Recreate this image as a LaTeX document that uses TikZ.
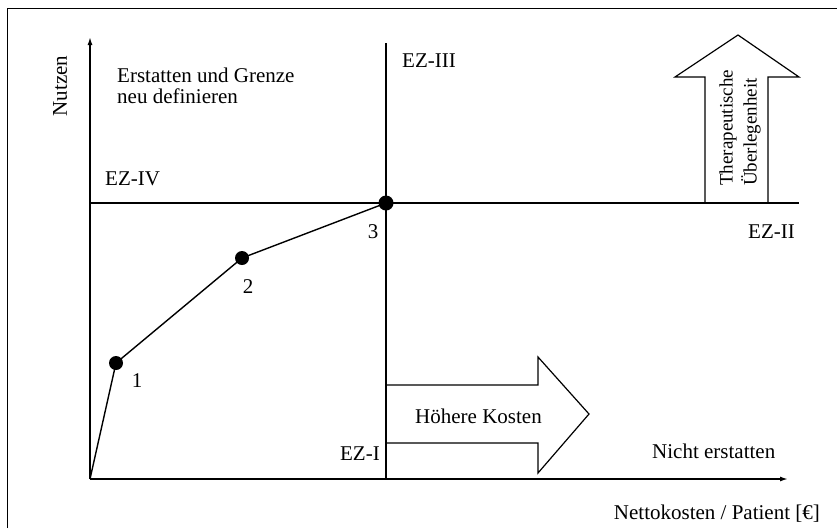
\documentclass[tikz,border=0pt]{standalone}
\usepackage{fontspec}
\setmainfont{Liberation Serif}
\usetikzlibrary{arrows.meta}

\begin{document}
\begin{tikzpicture}[x=1pt, y=-1pt, >={Latex[length=8pt,width=5pt]},
  every node/.style={font=\fontsize{21}{21}\selectfont, inner sep=0pt},
  axisline/.style={line width=1.5pt},
  bigarrow/.style={line width=1.2pt, fill=white}]

\useasboundingbox (0,0) rectangle (837,528);

% Pixel coordinates taken from the scanned figure (y grows downward).
\coordinate (O)    at ( 90, 479);
\coordinate (Ytop) at ( 90,  37);
\coordinate (Xend) at (788, 479);

% Efficiency frontier
\coordinate (P1) at (116, 363);
\coordinate (P2) at (242, 258);
\coordinate (P3) at (386, 203);

% Threshold lines
\coordinate (Vtop) at (386,  43);
\coordinate (Vbot) at (386, 479);
\coordinate (Hlft) at ( 90, 203);
\coordinate (Hrgt) at (799, 203);

% --- Outer frame (cut off at right and bottom) ---
\draw[line width=1pt] (7,528) -- (7,8) -- (837,8);

% --- Big arrow: therapeutic superiority (points up) ---
\draw[bigarrow] (705,203) -- (705,77) -- (675,77) -- (738,35)
  -- (799,77) -- (768,77) -- (768,203);
\node[rotate=90, anchor=west, align=left,
  font=\fontsize{19}{24}\selectfont] (ueber) at (740,186)
  {Therapeutische\\Überlegenheit};

% --- Big arrow: higher costs (points right) ---
\draw[bigarrow] (386,385) -- (538,385) -- (538,357) -- (589,414)
  -- (538,473) -- (538,443) -- (386,443);
\node[anchor=base west] (kosten) at (415,423) {Höhere Kosten};

% --- Axes ---
\draw[axisline, ->] (O) -- (Ytop);
\draw[axisline, ->] (O) -- (Xend);
\node[rotate=90] (nutzen) at (60,86) {Nutzen};
\node[anchor=base east] (netto) at (820,519) {Nettokosten / Patient [€]};

% --- Threshold lines ---
\draw[axisline] (Vtop) -- (Vbot);
\draw[axisline] (Hlft) -- (Hrgt);

% --- Frontier and points ---
\draw[line width=1.4pt] (O) -- (P1) -- (P2) -- (P3);
\fill (P1) circle (7pt);
\fill (P2) circle (7pt);
\fill (P3) circle (7.5pt);
\node[anchor=base] (n1) at (137,387) {1};
\node[anchor=base] (n2) at (248,293) {2};
\node[anchor=base] (n3) at (373,238) {3};

% --- Zone labels ---
\node[anchor=north west, align=left] (grenze) at (117,68)
  {Erstatten und Grenze\\neu definieren};
\node[anchor=base west] (ez4) at (105,185) {EZ-IV};
\node[anchor=base west] (ez3) at (402,67)  {EZ-III};
\node[anchor=base east] (ez2) at (795,238) {EZ-II};
\node[anchor=base east] (ez1) at (380,460) {EZ-I};
\node[anchor=base west] (nicht) at (652,458) {Nicht erstatten};

\end{tikzpicture}
\end{document}
